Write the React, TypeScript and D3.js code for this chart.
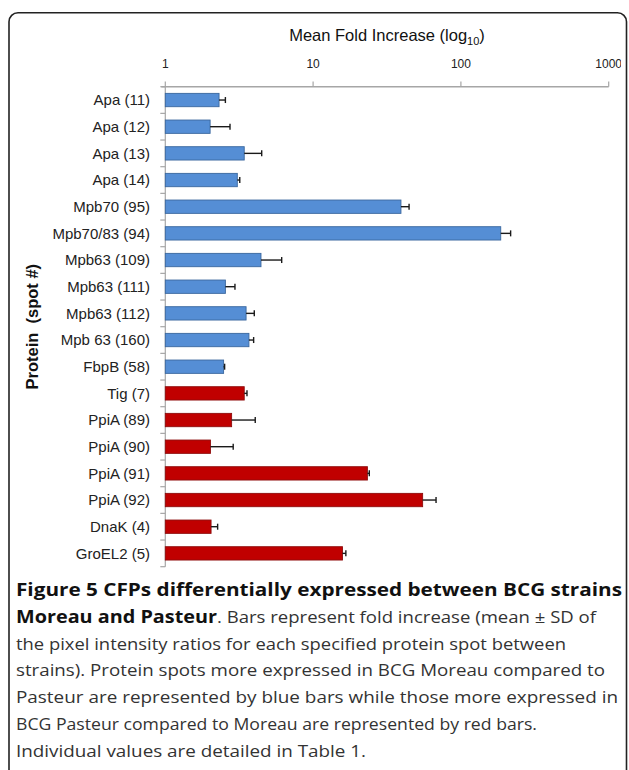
import React from "react";
import * as d3 from "d3";

const categories = [
  "Apa (11)", "Apa (12)", "Apa (13)", "Apa (14)", "Mpb70 (95)", "Mpb70/83 (94)",
  "Mpb63 (109)", "Mpb63 (111)", "Mpb63 (112)", "Mpb 63 (160)", "FbpB (58)",
  "Tig (7)", "PpiA (89)", "PpiA (90)", "PpiA (91)", "PpiA (92)", "DnaK (4)", "GroEL2 (5)",
];
const meanFold = [2.31, 2.01, 3.42, 3.07, 39.3, 186, 4.44, 2.55, 3.52, 3.68, 2.48,
  3.42, 2.81, 2.02, 23.3, 55.1, 2.04, 15.8];
const sdFold = [0.24, 0.73, 1.07, 0.12, 5.3, 31, 1.69, 0.41, 0.48, 0.28, 0.04,
  0.15, 1.25, 0.86, 0.7, 12.8, 0.22, 0.86];
const moreExpressedIn = ["Moreau", "Moreau", "Moreau", "Moreau", "Moreau", "Moreau",
  "Moreau", "Moreau", "Moreau", "Moreau", "Moreau",
  "Pasteur", "Pasteur", "Pasteur", "Pasteur", "Pasteur", "Pasteur", "Pasteur"];
const xTicks = [1, 10, 100, 1000];

const captionLines = [
  "the pixel intensity ratios for each specified protein spot between",
  "strains). Protein spots more expressed in BCG Moreau compared to",
  "Pasteur are represented by blue bars while those more expressed in",
  "BCG Pasteur compared to Moreau are represented by red bars.",
  "Individual values are detailed in Table 1.",
];
const captionWidths = [550, 589, 602, 521, 350];

export default function App() {
  const W = 629, H = 770;
  const x = d3.scaleLog().domain([1, 1000]).range([165.3, 608.7]);
  const y = d3.scaleBand<string>().domain(categories).range([86.7, 566.7])
    .paddingInner(0.5).paddingOuter(0.25);
  const step = y.step();
  const boundaries = d3.range(categories.length + 1).map((k) => 86.7 + k * step);
  const fillColor = d3.scaleOrdinal<string, string>().domain(["Moreau", "Pasteur"]).range(["#558ED5", "#C00000"]);
  const strokeColor = d3.scaleOrdinal<string, string>().domain(["Moreau", "Pasteur"]).range(["#3A679E", "#8E0C0C"]);
  const axisColor = "#A6A6A6";
  const labelFont = "'Liberation Sans', Arial, sans-serif";
  const capFont = "'Open Sans', 'Noto Sans', sans-serif";
  const cx = (x(1) + x(1000)) / 2;
  const lineGap = 26.8;
  const cap0 = 596;

  return (
    <svg width={W} height={H} style={{ position: "absolute", left: 0, top: 0, background: "#fff" }}>
      <defs>
        <clipPath id="plotclip"><rect x={0} y={0} width={621} height={H} /></clipPath>
      </defs>
      <rect x={9} y={12.7} width={617.5} height={H + 20} rx={9} ry={9} fill="#fff" stroke="#222" strokeWidth={1.6} />

      {/* title */}
      <text x={cx} y={40.5} textAnchor="middle" fontFamily={labelFont} fontSize={16.5} fill="#111">
        Mean Fold Increase (log<tspan fontSize={11} dy={4}>10</tspan><tspan dy={-4}>)</tspan>
      </text>

      {/* top axis */}
      <g clipPath="url(#plotclip)">
        {xTicks.map((t) => (
          <text key={t} x={x(t)} y={67.5} textAnchor="middle" fontFamily={labelFont} fontSize={12} fill="#222">{t}</text>
        ))}
      </g>
      <line x1={x(1) - 4} x2={x(1000)} y1={86.7} y2={86.7} stroke={axisColor} strokeWidth={1.5} />
      {xTicks.map((t) => (
        <line key={"t" + t} x1={x(t)} x2={x(t)} y1={81.5} y2={86.7} stroke={axisColor} strokeWidth={1.2} />
      ))}

      {/* left axis */}
      <line x1={x(1)} x2={x(1)} y1={86.7} y2={566.7} stroke={axisColor} strokeWidth={1.2} />
      {boundaries.map((b, i) => (
        <line key={"b" + i} x1={x(1) - 5} x2={x(1)} y1={b} y2={b} stroke={axisColor} strokeWidth={1.2} />
      ))}

      {/* bars */}
      {categories.map((c, i) => {
        const y0 = y(c)!;
        const bw = y.bandwidth();
        const xEnd = x(meanFold[i]);
        const xErr = x(meanFold[i] + sdFold[i]);
        const ym = y0 + bw / 2;
        return (
          <g key={c}>
            <rect x={x(1)} y={y0} width={xEnd - x(1)} height={bw}
              fill={fillColor(moreExpressedIn[i])} stroke={strokeColor(moreExpressedIn[i])} strokeWidth={0.9} />
            <line x1={xEnd} x2={xErr} y1={ym} y2={ym} stroke="#1a1a1a" strokeWidth={1.4} />
            <line x1={xErr} x2={xErr} y1={ym - 3} y2={ym + 3} stroke="#1a1a1a" strokeWidth={1.4} />
            <text x={150} y={ym + 5.2} textAnchor="end" fontFamily={labelFont} fontSize={15} fill="#222">{c}</text>
          </g>
        );
      })}

      {/* y title */}
      <text transform={`translate(38, ${(86.7 + 566.7) / 2}) rotate(-90)`} textAnchor="middle"
        fontFamily={labelFont} fontSize={16.5} fontWeight="bold" fill="#111" style={{ whiteSpace: "pre" }}>
        {"Protein  (spot #)"}
      </text>

      {/* caption */}
      <text x={16} y={cap0} fontFamily={capFont} fontSize={17} fontWeight="bold" fill="#111" textLength={606} lengthAdjust="spacingAndGlyphs">
        Figure 5 CFPs differentially expressed between BCG strains
      </text>
      <text x={16} y={cap0 + lineGap} fontFamily={capFont} fontSize={17} fontWeight="bold" fill="#111" textLength={201} lengthAdjust="spacingAndGlyphs">
        Moreau and Pasteur
      </text>
      <text x={217} y={cap0 + lineGap} fontFamily={capFont} fontSize={17} fill="#333" textLength={379} lengthAdjust="spacingAndGlyphs">
        . Bars represent fold increase (mean ± SD of
      </text>
      {captionLines.map((l, i) => (
        <text key={i} x={16} y={cap0 + lineGap * (i + 2)} fontFamily={capFont} fontSize={17} fill="#333"
          textLength={captionWidths[i]} lengthAdjust="spacingAndGlyphs">{l}</text>
      ))}
    </svg>
  );
}
